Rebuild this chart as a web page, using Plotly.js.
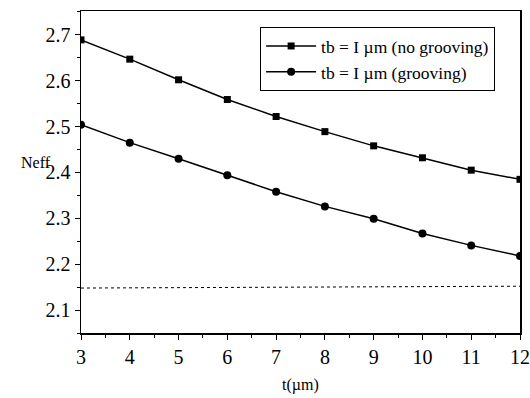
<!DOCTYPE html>
<html>
<head>
<meta charset="utf-8">
<script src="https://cdn.plot.ly/plotly-3.0.1.min.js"></script>
<style>html,body{margin:0;padding:0;background:#fff;}#chart{width:530px;height:398px;}</style>
</head>
<body>
<div id="chart"></div>
<script>
const tValues = [3, 4, 5, 6, 7, 8, 9, 10, 11, 12];
const neffNoGrooving = [2.689, 2.647, 2.602, 2.559, 2.522, 2.489, 2.458, 2.432, 2.405, 2.385];
const neffGrooving = [2.504, 2.465, 2.430, 2.394, 2.358, 2.326, 2.299, 2.267, 2.241, 2.218];
const refLineX = [3, 12];
const refLineY = [2.148, 2.152];
const seriesNames = ["tb = I \u00b5m (no grooving)", "tb = I \u00b5m (grooving)"];
const xTicks = [3, 4, 5, 6, 7, 8, 9, 10, 11, 12];
const yTicks = [2.1, 2.2, 2.3, 2.4, 2.5, 2.6, 2.7];

const font = {family: "'Liberation Serif', 'Times New Roman', 'DejaVu Serif', serif", color: "#000"};

const data = [
  {x: tValues, y: neffNoGrooving, name: seriesNames[0], mode: "lines+markers",
   line: {color: "#000", width: 1.5}, marker: {symbol: "square", size: 7, color: "#000"}},
  {x: tValues, y: neffGrooving, name: seriesNames[1], mode: "lines+markers",
   line: {color: "#000", width: 1.5}, marker: {symbol: "circle", size: 8, color: "#000"}},
  {x: refLineX, y: refLineY, mode: "lines", showlegend: false, hoverinfo: "skip",
   line: {color: "#000", width: 1, dash: "dot"}}
];

const layout = {
  width: 530, height: 398,
  margin: {l: 81, r: 10, t: 11, b: 65},
  paper_bgcolor: "#fff", plot_bgcolor: "#fff",
  font: Object.assign({size: 16}, font),
  showlegend: true,
  legend: {x: 0.408, y: 0.95, xanchor: "left", yanchor: "top",
    bordercolor: "#000", borderwidth: 1, bgcolor: "#fff",
    font: Object.assign({size: 17.5}, font), tracegroupgap: 0, itemwidth: 50},
  xaxis: {range: [3, 12], tickvals: xTicks, ticktext: xTicks.map(String),
    showgrid: false, zeroline: false, showline: true, linecolor: "#000", linewidth: 1.5,
    mirror: true, ticks: "outside", ticklen: 5, tickcolor: "#000",
    minor: {dtick: 0.5, ticks: "outside", ticklen: 3, tickcolor: "#000"},
    tickfont: Object.assign({size: 20}, font)},
  yaxis: {range: [2.05, 2.752], tickvals: yTicks, ticktext: yTicks.map(v => v.toFixed(1)),
    showgrid: false, zeroline: false, showline: true, linecolor: "#000", linewidth: 1.5,
    mirror: true, ticks: "outside", ticklen: 5, tickcolor: "#000",
    minor: {dtick: 0.05, ticks: "outside", ticklen: 3, tickcolor: "#000"},
    tickfont: Object.assign({size: 20}, font)},
  annotations: [
    {text: "Neff", xref: "paper", yref: "paper", x: -0.142, y: 0.53, xanchor: "left",
     showarrow: false, font: Object.assign({size: 16}, font)},
    {text: "t(\u00b5m)", xref: "paper", yref: "paper", x: 0.5, y: -0.16, yanchor: "middle",
     showarrow: false, font: Object.assign({size: 16}, font)}
  ]
};

Plotly.newPlot("chart", data, layout, {displayModeBar: false, staticPlot: true});
</script>
</body>
</html>
